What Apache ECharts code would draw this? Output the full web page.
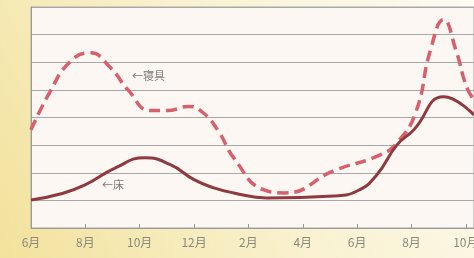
<!DOCTYPE html>
<html>
<head>
<meta charset="utf-8">
<script src="https://cdn.jsdelivr.net/npm/echarts@6/dist/echarts.min.js"></script>
<style>
html,body{margin:0;padding:0;}
#main{width:474px;height:258px;}
</style>
</head>
<body>
<div id="main"></div>
<script>
// 月ラベル (0 = 6月 ... 16 = 翌10月)
var months = ['6月','7月','8月','9月','10月','11月','12月','1月','2月','3月','4月','5月','6月','7月','8月','9月','10月'];

// 寝具 (破線)
var beddingX = [0, 0.7, 1.43, 2.17, 2.9, 3.57, 4.4, 5.0, 5.8, 6.3, 6.9, 7.46, 8.57, 9.34, 11.14, 12.83, 13.46, 14.15, 14.7, 15.18, 15.63, 16.03, 16.3];
var beddingY = [3.55, 4.93, 6.01, 6.34, 5.83, 5.0, 4.25, 4.25, 4.4, 4.2, 3.5, 2.54, 1.38, 1.27, 2.07, 2.64, 3.08, 4.17, 6.45, 7.54, 6.45, 5.1, 4.64];

// 床 (実線)
var floorX = [0, 1.07, 1.99, 3.09, 4.19, 5.11, 6.0, 6.73, 7.46, 8.68, 11.14, 12.0, 12.72, 13.46, 14.08, 15.18, 16.3];
var floorY = [1.01, 1.23, 1.56, 2.17, 2.54, 2.3, 1.75, 1.45, 1.27, 1.09, 1.16, 1.34, 1.92, 3.0, 3.55, 4.75, 4.09];

function pairs(xs, ys){
  var out = [];
  for (var i = 0; i < xs.length; i++) out.push([xs[i], ys[i]]);
  return out;
}

var myChart = echarts.init(document.getElementById('main'));
myChart.setOption({
  animation: false,
  backgroundColor: new echarts.graphic.LinearGradient(0, 1, 1, 0, [
    {offset: 0, color: '#f2e29c'},
    {offset: 0.5, color: '#f9f1cf'},
    {offset: 1, color: '#fdfbf3'}
  ]),
  grid: {
    left: 31, right: 0, top: 7, bottom: 30,
    outerBoundsMode: 'none',
    containLabel: false,
    show: true,
    backgroundColor: '#fcf7f3',
    borderColor: '#a8a8a8',
    borderWidth: 1
  },
  xAxis: {
    type: 'value',
    min: 0, max: 16.3, interval: 2,
    axisLine: {lineStyle: {color: '#9a9a9a', width: 1}},
    axisTick: {inside: true, length: 4, lineStyle: {color: '#9a9a9a'}},
    splitLine: {show: false},
    axisLabel: {
      color: '#8c8a7c', fontSize: 12, margin: 8,
      fontFamily: 'Noto Sans CJK JP',
      showMaxLabel: false,
      hideOverlap: false,
      formatter: function (v) { return months[v] || ''; }
    }
  },
  yAxis: {
    type: 'value',
    min: 0, max: 8, interval: 1,
    axisLine: {show: true, lineStyle: {color: '#9a9a9a'}},
    axisTick: {show: false},
    axisLabel: {show: false},
    splitLine: {lineStyle: {color: '#a8a8a8', width: 1}}
  },
  series: [{
    name: '寝具',
    type: 'line',
    smooth: 0.5,
    symbol: 'none',
    data: pairs(beddingX, beddingY),
    lineStyle: {color: '#d8606c', width: 3.5, type: [11, 6]}
  }, {
    name: '床',
    type: 'line',
    smooth: 0.5,
    symbol: 'none',
    data: pairs(floorX, floorY),
    lineStyle: {color: '#8e3a40', width: 3}
  }],
  graphic: [{
    type: 'text', left: 132, top: 70,
    style: {text: '←寝具', fill: '#7a7a7a', font: '11px "Noto Sans CJK JP"'}
  }, {
    type: 'text', left: 102, top: 179,
    style: {text: '←床', fill: '#7a7a7a', font: '11px "Noto Sans CJK JP"'}
  }]
});
</script>
</body>
</html>
